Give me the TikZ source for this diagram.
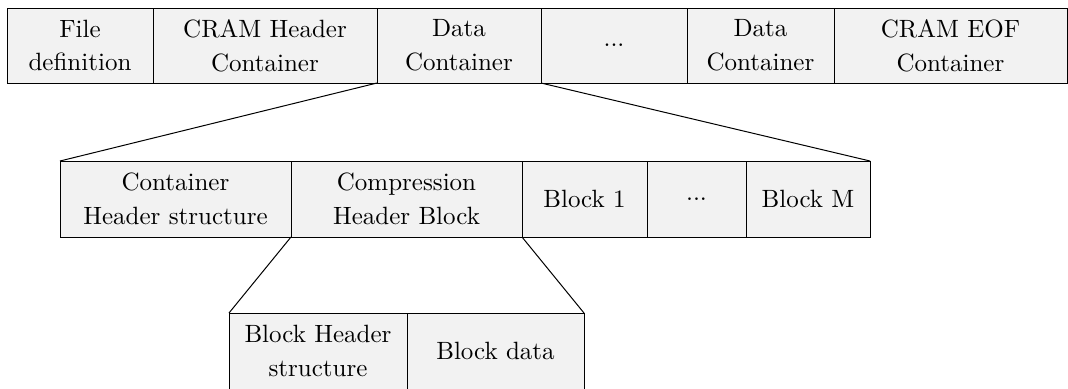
\documentclass[tikz,border=0pt]{standalone}
\usepackage{tikz}
\usetikzlibrary{positioning}
\tikzset{
    cell/.style={draw, fill=black!5, inner sep=0pt, outer sep=0pt, align=center,
        minimum height=30pt, font=\fontsize{10}{13.5}\selectfont},
    cellw/.style={minimum width=#1*0.4pt}
}
\begin{document}
\begin{tikzpicture}[x=0.4pt, y=-0.4pt]
            \useasboundingbox (0,0) rectangle (1068,388);
            % file level
            \node[cell, cellw=146, anchor=north west] (file) at (7,8) {File\\definition};
            \node[cell, cellw=224, right=0pt of file] (cramhdr) {CRAM Header\\Container};
            \node[cell, cellw=164, right=0pt of cramhdr] (data1) {Data\\Container};
            \node[cell, cellw=146, right=0pt of data1] (dots1) {...};
            \node[cell, cellw=147, right=0pt of dots1] (data2) {Data\\Container};
            \node[cell, cellw=233, right=0pt of data2] (eof) {CRAM EOF\\Container};
            % container level
            \node[cell, cellw=231, minimum height=30.4pt, anchor=north west] (conthdr) at (60,161) {Container\\Header structure};
            \node[cell, cellw=231, minimum height=30.4pt, right=0pt of conthdr] (comphdr) {Compression\\Header Block};
            \node[cell, cellw=125, minimum height=30.4pt, right=0pt of comphdr] (block1) {Block 1};
            \node[cell, cellw=99, minimum height=30.4pt, right=0pt of block1] (dots2) {...};
            \node[cell, cellw=124, minimum height=30.4pt, right=0pt of dots2] (blockM) {Block M};
            % block level
            \node[cell, cellw=178, minimum height=30.4pt, anchor=north west] (blkhdr) at (229,313) {Block Header\\structure};
            \node[cell, cellw=177, minimum height=30.4pt, right=0pt of blkhdr] (blkdata) {Block data};
            \draw (data1.south west) -- (conthdr.north west);
            \draw (data1.south east) -- (blockM.north east);
            \draw (comphdr.south west) -- (blkhdr.north west);
            \draw (comphdr.south east) -- (blkdata.north east);
        \end{tikzpicture}
\end{document}
